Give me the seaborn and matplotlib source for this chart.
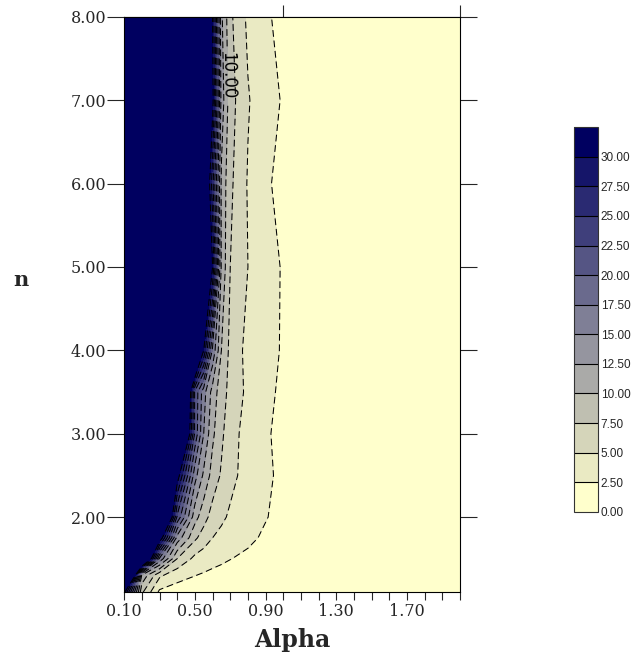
import numpy as np
import matplotlib
matplotlib.use("Agg")
import matplotlib.pyplot as plt
import seaborn as sns

# grid (Alpha across, n down)
alpha = [0.1, 0.2, 0.3, 0.4, 0.5, 0.55, 0.6, 0.65, 0.7, 0.8, 0.9, 1.0, 1.1, 1.2, 1.5, 2.0]
n_vals = [1.1, 1.3, 1.5, 1.75, 2.0, 2.5, 3.0, 3.5, 4.0, 5.0, 6.0, 7.0, 8.0]

z_n11 = [31, 8, 2.0, 1.5, 1.2, 1.1, 1.0, 0.95, 0.9, 0.8, 0.7, 0.6, 0.5, 0.5, 0.4, 0.3]
z_n13 = [60, 12, 5.5, 3.3, 2.55, 2.25, 2.0, 1.85, 1.7, 1.5, 1.3, 1.1, 1.0, 0.9, 0.7, 0.5]
z_n15 = [300, 45, 17, 7.5, 4.3, 3.7, 3.2, 2.85, 2.55, 2.1, 1.8, 1.5, 1.3, 1.1, 0.8, 0.6]
z_n175 = [500, 150, 33, 14, 8, 6.3, 5, 4.3, 3.7, 2.9, 2.2, 1.8, 1.5, 1.3, 0.9, 0.6]
z_n20 = [600, 300, 50, 22, 11, 8.5, 6.5, 5.5, 4.6, 3.4, 2.6, 1.9, 1.6, 1.3, 0.9, 0.6]
z_n25 = [700, 400, 120, 32, 16, 12, 9, 7.2, 5.8, 3.9, 2.9, 2.0, 1.6, 1.3, 0.9, 0.6]
z_n30 = [800, 500, 300, 50, 22, 15, 10.5, 8, 6.0, 4.0, 2.8, 1.8, 1.5, 1.2, 0.9, 0.6]
z_n35 = [800, 500, 400, 55, 22, 16, 11.5, 8.5, 6.8, 4.4, 3.0, 2.1, 1.6, 1.3, 0.9, 0.6]
z_n40 = [900, 600, 500, 300, 45, 30, 17, 10, 6.8, 4.2, 3.2, 2.3, 1.7, 1.4, 0.9, 0.6]
z_n50 = [900, 700, 500, 400, 300, 100, 30, 12, 7.5, 5.0, 3.4, 2.3, 1.7, 1.4, 0.9, 0.6]
z_n60 = [900, 700, 500, 400, 200, 38, 26, 12, 8, 4.8, 2.8, 1.9, 1.5, 1.2, 0.9, 0.6]
z_n70 = [900, 700, 500, 400, 300, 100, 31, 14, 8.5, 5.2, 3.4, 2.3, 1.7, 1.4, 0.9, 0.6]
z_n80 = [900, 700, 500, 400, 300, 100, 30, 13, 8, 4.5, 2.8, 1.9, 1.5, 1.2, 0.9, 0.6]

Z = np.array([z_n11, z_n13, z_n15, z_n175, z_n20, z_n25, z_n30, z_n35,
              z_n40, z_n50, z_n60, z_n70, z_n80])

cbar_ticks = [0, 2.5, 5, 7.5, 10, 12.5, 15, 17.5, 20, 22.5, 25, 27.5, 30]
xtick_major = [0.1, 0.5, 0.9, 1.3, 1.7]
ytick_major = [2, 3, 4, 5, 6, 7, 8]

sns.set_style("ticks")
plt.rcParams['font.family'] = ['DejaVu Serif']

levels = cbar_ticks + [1000]
colours = sns.blend_palette(["#FFFFCC", "#000060"], 13)
dash = [(0, (6.5, 3.6))]

fig = plt.figure(figsize=(6.4, 6.52), dpi=100)
ax = fig.add_axes([0.194, 0.092, 0.525, 0.882])

cf = ax.contourf(alpha, n_vals, Z, levels=levels, colors=colours)
line_lv = [v for v in cbar_ticks[1:] if v != 10]
ax.contour(alpha, n_vals, Z, levels=line_lv, colors="black",
           linestyles=dash, linewidths=0.75)
cs10 = ax.contour(alpha, n_vals, Z, levels=[10], colors="black",
                  linestyles=dash, linewidths=0.75)
lab = ax.clabel(cs10, fmt="%.2f", fontsize=12, inline=True,
                manual=[(0.68, 7.3)])
for t in lab:
    t.set_family("Liberation Sans Narrow")

ax.set_xlim(0.1, 2.0)
ax.set_ylim(1.1, 8.0)
ax.set_xticks(xtick_major)
ax.set_xticks(np.arange(0.1, 2.01, 0.1), minor=True)
ax.set_xticklabels([f"{v:.2f}" for v in xtick_major], fontsize=11.5)
ax.set_yticks(ytick_major)
ax.set_yticklabels([f"{v:.2f}" for v in ytick_major], fontsize=11.5)
ax.tick_params(axis="x", which="both", direction="out", length=6, width=0.8, pad=2)
ax.tick_params(axis="y", which="major", direction="out", length=12, width=0.8,
               left=True, right=True, pad=1)
for sp in ax.spines.values():
    sp.set_linewidth(0.8)
    sp.set_color("black")

top = ax.secondary_xaxis("top")
top.set_xticks([1.0, 2.0])
top.set_xticklabels(["", ""])
top.tick_params(direction="out", length=9, width=0.8)

ax.set_xlabel("Alpha", fontsize=17, fontweight="bold")
ax.xaxis.set_label_coords(0.5, -0.062)
ax.set_ylabel("n", fontsize=15, fontweight="bold", rotation=0, va="center")
ax.yaxis.set_label_coords(-0.307, 0.543)

cax = fig.add_axes([0.897, 0.215, 0.0375, 0.59])
cb = fig.colorbar(cf, cax=cax, ticks=cbar_ticks, drawedges=True)
cb.ax.set_yticklabels([f"{v:.2f}" for v in cbar_ticks], fontsize=8.5,
                      family="Liberation Sans")
cb.ax.tick_params(length=0, pad=2)
cb.outline.set_linewidth(0.8)
cb.outline.set_edgecolor("#333333")
cb.dividers.set_color("black")
cb.dividers.set_linewidth(0.8)

fig.savefig("out.png", dpi=100)
